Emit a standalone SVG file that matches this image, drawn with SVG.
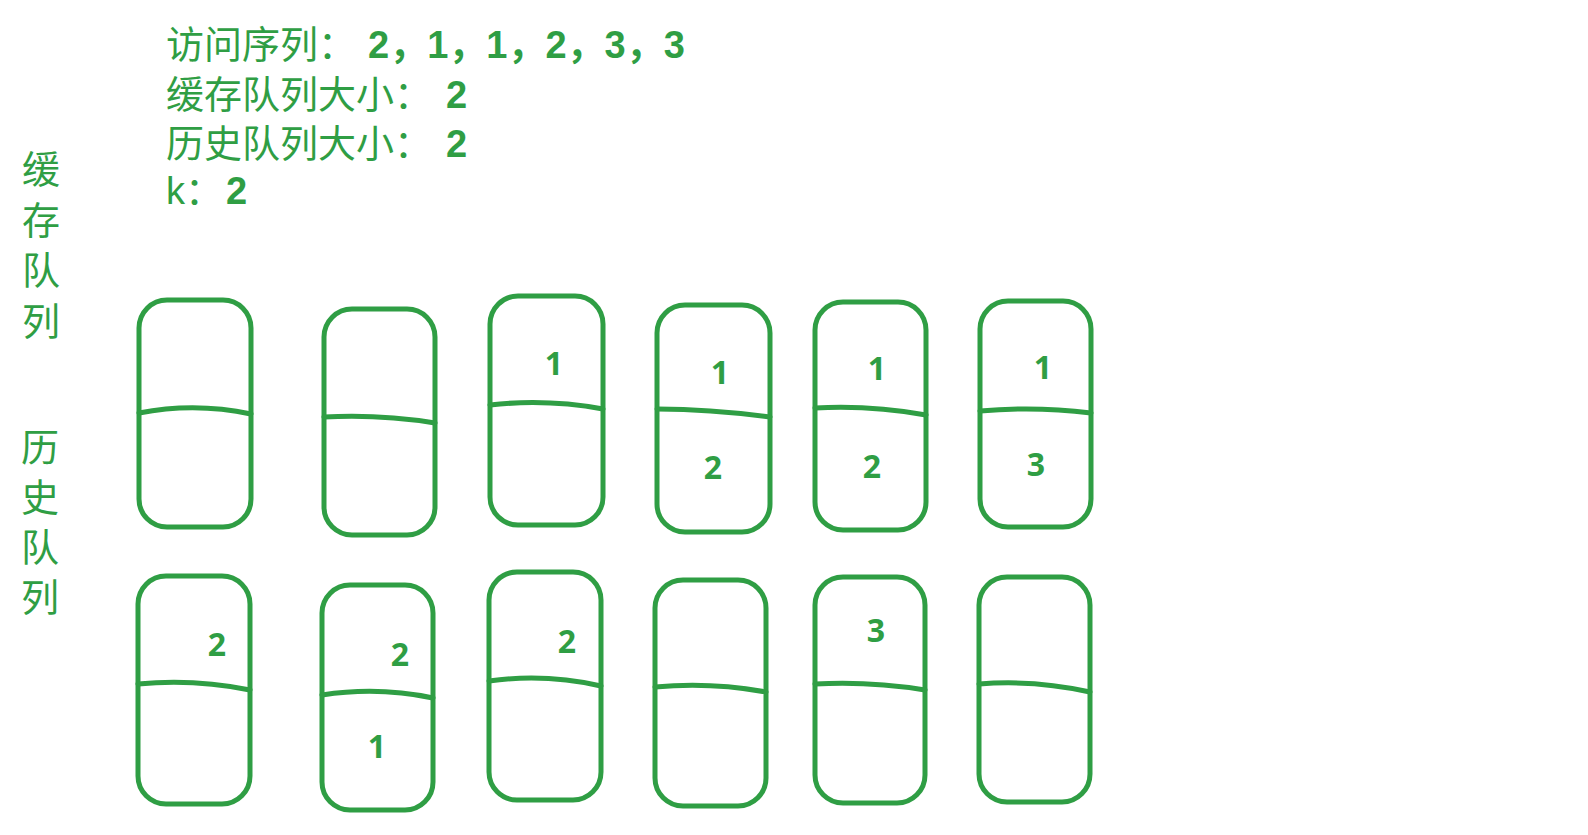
<svg xmlns="http://www.w3.org/2000/svg" width="1588" height="835" viewBox="0 0 1588 835">
<style>
  .t { font-family: "Liberation Sans", "Noto Sans CJK SC", sans-serif; font-size: 38px; fill: #2f9e44; }
  .n { font-weight: bold; }
  .d { font-family: "Noto Sans", "Liberation Sans", sans-serif; font-size: 32px; font-weight: bold; fill: #2f9e44; text-anchor: middle; }
  .box { fill: none; stroke: #2f9e44; stroke-width: 5; }
  .div { fill: none; stroke: #2f9e44; stroke-width: 5; stroke-linecap: round; }
</style>
<rect width="1588" height="835" fill="#ffffff"/>
<g id="header">
  <text class="t" y="58"><tspan x="166">访问序列：</tspan><tspan class="n" x="368">2，1，1，2，3，3</tspan></text>
  <text class="t" y="108"><tspan x="166">缓存队列大小：</tspan><tspan class="n" x="446">2</tspan></text>
  <text class="t" y="157"><tspan x="166">历史队列大小：</tspan><tspan class="n" x="446">2</tspan></text>
  <text class="t" y="204"><tspan x="166">k：</tspan><tspan class="n" x="226">2</tspan></text>
</g>
<g id="label-cache">
  <text class="t" x="22" y="183">缓</text>
  <text class="t" x="22" y="234">存</text>
  <text class="t" x="22" y="284">队</text>
  <text class="t" x="22" y="335">列</text>
</g>
<g id="label-history">
  <text class="t" x="21" y="461">历</text>
  <text class="t" x="21" y="511">史</text>
  <text class="t" x="21" y="561">队</text>
  <text class="t" x="21" y="611">列</text>
</g>
<g id="cache-1">
  <rect class="box" x="139" y="300" width="112" height="227" rx="28"/>
  <path class="div" d="M139 413 Q195 402 251 414"/>
</g>
<g id="cache-2">
  <rect class="box" x="324" y="309" width="111" height="226" rx="28"/>
  <path class="div" d="M324 417 Q380 414 435 423"/>
</g>
<g id="cache-3">
  <rect class="box" x="490" y="296" width="113" height="229" rx="28"/>
  <path class="div" d="M490 405 Q546 398.6 603 409"/>
  <text class="d" x="554" y="375">1</text>
</g>
<g id="cache-4">
  <rect class="box" x="657" y="305" width="113" height="227" rx="28"/>
  <path class="div" d="M657 409 Q713 409.4 770 417"/>
  <text class="d" x="720" y="384">1</text>
  <text class="d" x="713" y="479">2</text>
</g>
<g id="cache-5">
  <rect class="box" x="815" y="302" width="111" height="228" rx="28"/>
  <path class="div" d="M815 408 Q870 404.9 926 415"/>
  <text class="d" x="877" y="380">1</text>
  <text class="d" x="872" y="478">2</text>
</g>
<g id="cache-6">
  <rect class="box" x="980" y="301" width="111" height="226" rx="28"/>
  <path class="div" d="M980 411 Q1035 406 1091 413"/>
  <text class="d" x="1043" y="379">1</text>
  <text class="d" x="1036" y="476">3</text>
</g>
<g id="history-1">
  <rect class="box" x="138" y="576" width="112" height="228" rx="28"/>
  <path class="div" d="M138 684 Q194 678.6 250 690"/>
  <text class="d" x="217" y="656">2</text>
</g>
<g id="history-2">
  <rect class="box" x="322" y="585" width="111" height="225" rx="28"/>
  <path class="div" d="M322 695 Q378 686.3 433 698"/>
  <text class="d" x="400" y="666">2</text>
  <text class="d" x="377" y="758">1</text>
</g>
<g id="history-3">
  <rect class="box" x="489" y="572" width="112" height="228" rx="28"/>
  <path class="div" d="M489 681 Q545 673.3 601 686"/>
  <text class="d" x="567" y="653">2</text>
</g>
<g id="history-4">
  <rect class="box" x="655" y="580" width="111" height="226" rx="28"/>
  <path class="div" d="M655 687 Q710 681.7 766 692"/>
</g>
<g id="history-5">
  <rect class="box" x="815" y="577" width="110" height="226" rx="28"/>
  <path class="div" d="M815 684 Q870 681 925 690"/>
  <text class="d" x="876" y="642">3</text>
</g>
<g id="history-6">
  <rect class="box" x="979" y="577" width="111" height="225" rx="28"/>
  <path class="div" d="M979 684 Q1035 679.6 1090 692"/>
</g>
<g id="connectors"/>
</svg>
